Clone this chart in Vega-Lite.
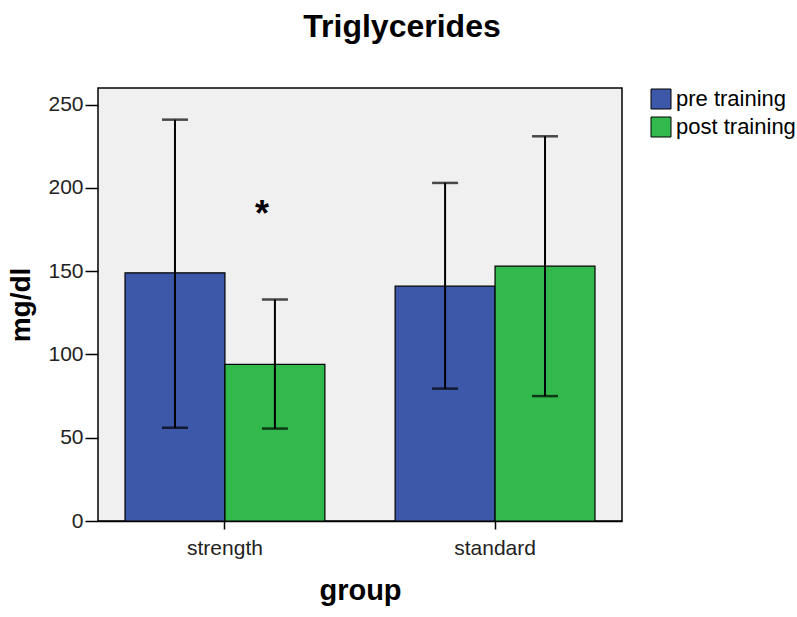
{
  "$schema": "https://vega.github.io/schema/vega-lite/v6.json",
  "width": 524,
  "height": 433,
  "autosize": {"type": "none"},
  "padding": {"left": 98, "top": 88, "right": 175, "bottom": 96},
  "background": "white",
  "title": {
    "text": "Triglycerides",
    "font": "Liberation Sans",
    "fontSize": 32,
    "fontWeight": "bold",
    "color": "#000000",
    "anchor": "middle",
    "dx": 42,
    "offset": 44
  },
  "config": {
    "view": {"fill": "#f0f0f0", "stroke": "#000000", "strokeWidth": 1.5},
    "font": "Liberation Sans"
  },
  "data": {
    "values": [
      {"group": "strength", "time": "pre training", "mean": 149, "lo": 56, "hi": 241},
      {"group": "strength", "time": "post training", "mean": 94, "lo": 55.5, "hi": 133},
      {"group": "standard", "time": "pre training", "mean": 141, "lo": 79.5, "hi": 203},
      {"group": "standard", "time": "post training", "mean": 153, "lo": 75, "hi": 231}
    ]
  },
  "encoding": {
    "x": {
      "field": "group",
      "type": "nominal",
      "sort": ["strength", "standard"],
      "scale": {"paddingInner": 0.26, "paddingOuter": 0.1},
      "axis": {
        "title": "group",
        "labelAngle": 0,
        "labelFont": "Liberation Sans",
        "labelFontSize": 21,
        "labelColor": "#222222",
        "labelPadding": 8,
        "tickSize": 8,
        "tickColor": "#000000",
        "tickWidth": 1.5,
        "domainColor": "#000000",
        "domainWidth": 1.5,
        "titleFont": "Liberation Sans",
        "titleFontSize": 29,
        "titleFontWeight": "bold",
        "titleColor": "#000000",
        "titlePadding": 18
      }
    },
    "xOffset": {
      "field": "time",
      "type": "nominal",
      "sort": ["pre training", "post training"],
      "scale": {"paddingInner": 0, "paddingOuter": 0}
    }
  },
  "layer": [
    {
      "mark": {"type": "bar", "stroke": "#000000", "strokeWidth": 1.2},
      "encoding": {
        "y": {
          "field": "mean",
          "type": "quantitative",
          "scale": {"domain": [0, 260], "nice": false},
          "axis": {
            "title": "mg/dl",
            "values": [0, 50, 100, 150, 200, 250],
            "grid": false,
            "labelFont": "Liberation Sans",
            "labelFontSize": 21,
            "labelColor": "#222222",
            "labelPadding": 2,
            "tickSize": 13,
            "tickColor": "#000000",
            "tickWidth": 1.5,
            "domain": false,
            "titleFont": "Liberation Sans",
            "titleFontSize": 28,
            "titleFontWeight": "bold",
            "titleColor": "#000000",
            "titlePadding": 12
          }
        },
        "color": {
          "field": "time",
          "type": "nominal",
          "sort": ["pre training", "post training"],
          "scale": {"domain": ["pre training", "post training"], "range": ["#3d58a9", "#31b94b"]},
          "legend": {
            "title": null,
            "orient": "none",
            "legendX": 552,
            "legendY": 0,
            "symbolType": "square",
            "symbolSize": 400,
            "symbolStrokeColor": "#000000",
            "symbolStrokeWidth": 1,
            "symbolOpacity": 1,
            "labelFont": "Liberation Sans",
            "labelFontSize": 22,
            "labelColor": "#000000",
            "labelOffset": 4,
            "rowPadding": 4
          }
        }
      }
    },
    {
      "mark": {"type": "rule", "color": "#000000", "strokeWidth": 2},
      "encoding": {
        "y": {"field": "lo", "type": "quantitative"},
        "y2": {"field": "hi"}
      }
    },
    {
      "mark": {"type": "tick", "color": "#000000", "size": 26, "thickness": 2.5, "orient": "horizontal"},
      "encoding": {
        "y": {"field": "lo", "type": "quantitative"}
      }
    },
    {
      "mark": {"type": "tick", "color": "#000000", "size": 26, "thickness": 2.5, "orient": "horizontal"},
      "encoding": {
        "y": {"field": "hi", "type": "quantitative"}
      }
    },
    {
      "data": {"values": [{"group": "strength", "label": "*", "pos": 184}]},
      "mark": {"type": "text", "dx": 37, "fontSize": 36, "fontWeight": "bold", "font": "Liberation Sans", "color": "#000000", "baseline": "middle"},
      "encoding": {
        "xOffset": null,
        "y": {"field": "pos", "type": "quantitative"},
        "text": {"field": "label"}
      }
    }
  ]
}
